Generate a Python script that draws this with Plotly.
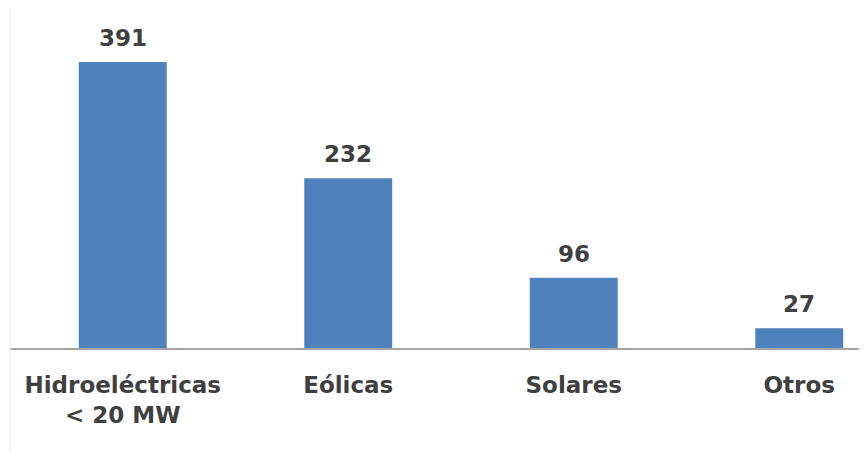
import plotly.graph_objects as go

# ----------------- data -----------------
CATEGORIES = ["Hidroeléctricas<br>< 20 MW", "Eólicas", "Solares", "Otros"]
VALUES = [391, 232, 96, 27]

BAR_COLOR = "#4F81BD"
TEXT_COLOR = "#404040"
FONT = "DejaVu Sans, sans-serif"

fig = go.Figure()
fig.add_trace(go.Bar(
    x=CATEGORIES, y=VALUES, marker=dict(color=BAR_COLOR, line=dict(width=0)),
    width=0.39, hoverinfo="x+y",
))

# value labels sit a bit higher above the bars than plotly's outside text
for cat, val in zip(CATEGORIES, VALUES):
    fig.add_annotation(x=cat, y=val, text=str(val), showarrow=False, yanchor="bottom",
                       yshift=9, font=dict(size=23, color=TEXT_COLOR, family=FONT, weight="bold"))

# faint left border line of the original picture
fig.add_shape(type="line", xref="paper", yref="paper", x0=0, x1=0, y0=-0.35, y1=1,
              line=dict(color="#E6E6E6", width=1))

# note: the page body adds an 8px offset, margins below account for it
fig.update_layout(
    width=867, height=452,
    paper_bgcolor="white", plot_bgcolor="white",
    margin=dict(l=2, r=0, t=0, b=112),
    showlegend=False,
    font=dict(family=FONT, color=TEXT_COLOR),
    xaxis=dict(range=[-0.5, 3.336], showgrid=False, showline=True, linecolor="#A6A6A6",
               linewidth=2, ticks="", automargin=False, ticklabelstandoff=15,
               tickfont=dict(size=23, color=TEXT_COLOR, family=FONT, weight="bold")),
    yaxis=dict(range=[0, 465], visible=False, automargin=False),
)

fig.write_html("out.html")
